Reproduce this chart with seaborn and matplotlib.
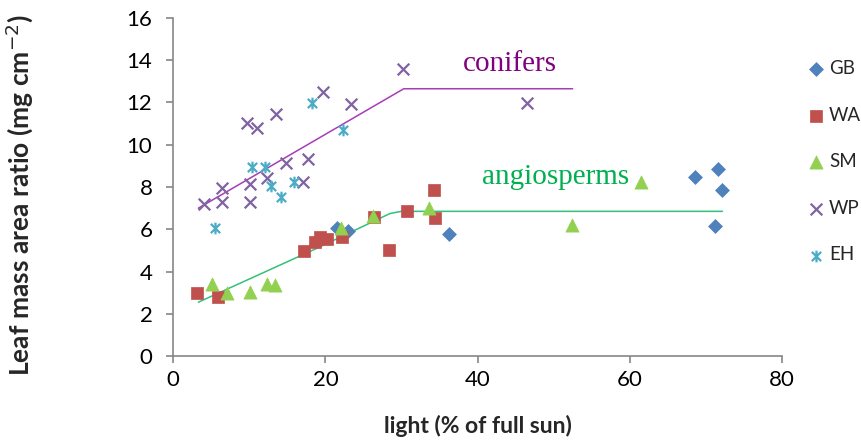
import numpy as np
import pandas as pd
import matplotlib
matplotlib.use("Agg")
import matplotlib.pyplot as plt
import seaborn as sns
from matplotlib.path import Path

# ---- data ----
gb_x = [21.5, 23.0, 36.3, 68.6, 71.6, 72.1, 71.2]
gb_y = [6.05, 5.9, 5.78, 8.46, 8.83, 7.86, 6.16]

wa_x = [3.15, 5.83, 17.2, 18.6, 19.3, 20.2, 22.2, 26.4, 28.3, 30.7, 34.3, 34.4]
wa_y = [3.01, 2.82, 4.99, 5.42, 5.65, 5.55, 5.65, 6.57, 5.03, 6.88, 7.86, 6.52]

sm_x = [5.04, 7.0, 10.1, 12.35, 13.4, 22.1, 26.2, 33.6, 52.4, 61.5]
sm_y = [3.41, 2.98, 3.06, 3.42, 3.37, 6.08, 6.63, 6.99, 6.2, 8.25]

wp_x = [4.03, 6.44, 6.44, 9.65, 10.08, 10.08, 10.96, 12.27, 13.46, 14.8, 17.1, 17.7, 19.7, 23.4, 30.2, 46.5]
wp_y = [7.18, 7.94, 7.28, 11.03, 8.13, 7.31, 10.77, 8.41, 11.44, 9.12, 8.25, 9.3, 12.5, 11.9, 13.55, 11.98]

eh_x = [5.48, 10.3, 12.05, 12.84, 14.1, 15.9, 18.3, 22.3]
eh_y = [6.08, 8.96, 8.96, 8.05, 7.54, 8.25, 11.95, 10.69]

conifer_line_x = [3.3, 30.3, 52.5]
conifer_line_y = [7.0, 12.64, 12.64]
angio_line_x = [3.3, 18.85, 28.5, 30.0, 72.2]
angio_line_y = [2.56, 5.1, 6.75, 6.85, 6.85]

series_names = ["GB", "WA", "SM", "WP", "EH"]

# ---- style ----
sns.set_theme(style="white")
plt.rcParams['font.family'] = ['Lato', 'DejaVu Sans']

fig = plt.figure(figsize=(8.62, 4.40), dpi=100)
ax = fig.add_axes([0.201, 0.19, 0.706, 0.77])

star = Path([(-1, -1), (1, 1), (-1, 1), (1, -1), (0, -1.25), (0, 1.25)],
            [Path.MOVETO, Path.LINETO, Path.MOVETO, Path.LINETO, Path.MOVETO, Path.LINETO])

# lines
sns.lineplot(x=conifer_line_x, y=conifer_line_y, sort=False, color="#A83CB8", lw=1.1, ax=ax)
sns.lineplot(x=angio_line_x, y=angio_line_y, sort=False, color="#33C07A", lw=1.1, ax=ax)

spec = [
    (gb_x, gb_y, "GB", "D", "#4F81BD", 50, None),
    (wa_x, wa_y, "WA", "s", "#C0504D", 85, None),
    (sm_x, sm_y, "SM", "^", "#92D050", 90, None),
    (wp_x, wp_y, "WP", "x", "#8064A2", 70, 1.6),
    (eh_x, eh_y, "EH", star, "#4BACC6", 70, 1.6),
]
for xs, ys, name, mk, col, s, lw in spec:
    if lw is None:
        sns.scatterplot(x=xs, y=ys, marker=mk, color=col, s=s, edgecolor=col,
                        linewidth=0.5, label=name, ax=ax, zorder=3)
    else:
        ax.scatter(xs, ys, marker=mk, color=col, s=s, linewidths=lw, label=name, zorder=3)

ax.text(44.3, 13.83, "conifers", color="#800080", fontsize=21,
        family="Liberation Serif", ha="center", va="center")
ax.text(50.3, 8.49, "angiosperms", color="#00B050", fontsize=21,
        family="Liberation Serif", ha="center", va="center")

ax.set_xlim(0, 80)
ax.set_ylim(0, 16)
ax.set_xticks([0, 20, 40, 60, 80])
ax.set_yticks(np.arange(0, 17, 2))
for sp in ["top", "right"]:
    ax.spines[sp].set_visible(False)
for sp in ["left", "bottom"]:
    ax.spines[sp].set_color("#868686")
    ax.spines[sp].set_linewidth(1.2)
ax.tick_params(axis="both", direction="out", length=5, width=1.2, color="#868686",
               labelsize=16, labelcolor="#000000", left=True, bottom=True)
ax.tick_params(axis="y", pad=10)
ax.tick_params(axis="x", pad=5)
ax.set_xlabel("light (% of full sun)", fontsize=16.5, fontweight="bold", labelpad=18)
ax.set_ylabel("Leaf mass area ratio (mg cm$^{-2}$)", fontsize=19, fontweight="bold")
ax.yaxis.set_label_coords(-0.228, 0.476)

leg = ax.legend(loc="upper left", bbox_to_anchor=(1.028, 0.897), frameon=False,
                fontsize=13.5, labelspacing=1.58, handletextpad=0.2, handlelength=1.0,
                borderaxespad=0)

fig.savefig("out.png", dpi=100)
